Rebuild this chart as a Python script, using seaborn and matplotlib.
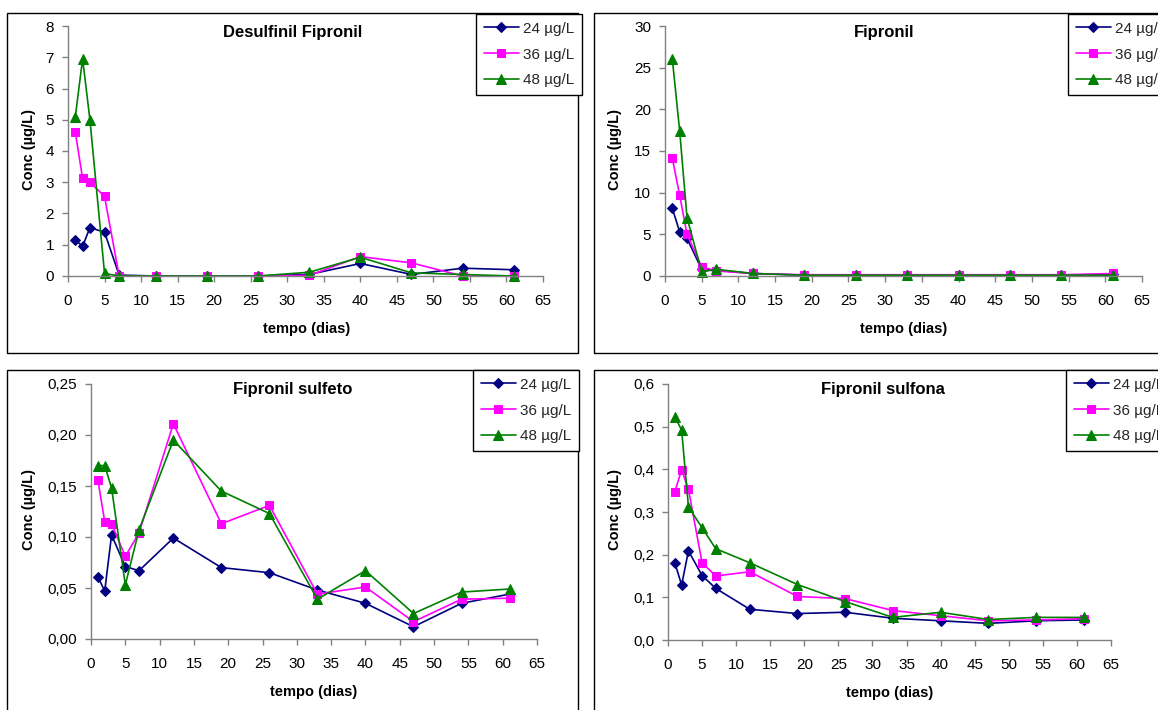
import numpy as np
import pandas as pd
import matplotlib
matplotlib.use("Agg")
import matplotlib.pyplot as plt
from matplotlib.patches import Rectangle
from matplotlib.ticker import FuncFormatter, MultipleLocator
import seaborn as sns

# ---------------- data ----------------
days = [1, 2, 3, 5, 7, 12, 19, 26, 33, 40, 47, 54, 61]
series_labels = ["24 µg/L", "36 µg/L", "48 µg/L"]

desulfinil_24 = [1.15, 0.95, 1.55, 1.40, 0.03, 0.0, 0.0, 0.0, 0.05, 0.40, 0.05, 0.25, 0.20]
desulfinil_36 = [4.60, 3.12, 3.00, 2.55, 0.0, 0.0, 0.0, 0.0, 0.02, 0.62, 0.42, 0.0, 0.0]
desulfinil_48 = [5.10, 6.95, 5.00, 0.08, 0.0, 0.0, 0.0, 0.0, 0.12, 0.60, 0.10, 0.05, 0.0]

fipronil_24 = [8.1, 5.3, 4.5, 0.8, 0.7, 0.3, 0.1, 0.1, 0.1, 0.1, 0.1, 0.1, 0.2]
fipronil_36 = [14.1, 9.7, 5.0, 1.1, 0.6, 0.3, 0.15, 0.15, 0.15, 0.15, 0.15, 0.15, 0.3]
fipronil_48 = [26.0, 17.4, 7.0, 0.5, 0.8, 0.3, 0.1, 0.1, 0.1, 0.1, 0.1, 0.1, 0.1]

sulfeto_24 = [0.061, 0.047, 0.102, 0.071, 0.067, 0.099, 0.070, 0.065, 0.048, 0.035, 0.012, 0.035, 0.044]
sulfeto_36 = [0.156, 0.115, 0.113, 0.081, 0.104, 0.211, 0.113, 0.131, 0.044, 0.051, 0.017, 0.039, 0.040]
sulfeto_48 = [0.170, 0.170, 0.148, 0.053, 0.107, 0.195, 0.145, 0.123, 0.039, 0.067, 0.025, 0.046, 0.049]

sulfona_24 = [0.181, 0.129, 0.209, 0.151, 0.121, 0.072, 0.062, 0.065, 0.051, 0.045, 0.039, 0.045, 0.047]
sulfona_36 = [0.347, 0.399, 0.353, 0.181, 0.150, 0.160, 0.102, 0.097, 0.069, 0.057, 0.045, 0.047, 0.050]
sulfona_48 = [0.523, 0.492, 0.312, 0.263, 0.214, 0.181, 0.130, 0.090, 0.053, 0.065, 0.048, 0.053, 0.053]

titles = ["Desulfinil Fipronil", "Fipronil", "Fipronil sulfeto", "Fipronil sulfona"]
x_label = "tempo (dias)"
y_label = "Conc (µg/L)"

# ---------------- style ----------------
sns.set_theme(style="white")
plt.rcParams["font.family"] = ["Liberation Sans", "DejaVu Sans"]

colors = ["#000080", "#FF00FF", "#008000"]
markers = ["D", "s", "^"]
msizes = [5.0, 6.0, 6.5]

W, H = 1158, 710
fig = plt.figure(figsize=(W / 100, H / 100), dpi=100)
fig.patch.set_facecolor("white")


def fx(x):
    return x / W


def fy(y):
    return 1 - y / H


panels = [
    dict(data=[desulfinil_24, desulfinil_36, desulfinil_48], ax=(68, 543, 26, 276),
         frame=(7, 13, 578, 353), ymax=8, ystep=1, fmt="{:.0f}",
         title=(293, 33), xl=(307, 329), yl=(29, 150), leg=(476, 14)),
    dict(data=[fipronil_24, fipronil_36, fipronil_48], ax=(665, 1142, 26, 276),
         frame=(594, 13, 1174, 353), ymax=30, ystep=5, fmt="{:.0f}",
         title=(884, 33), xl=(904, 329), yl=(615, 150), leg=(1068, 14)),
    dict(data=[sulfeto_24, sulfeto_36, sulfeto_48], ax=(91, 537, 384, 639),
         frame=(7, 370, 578, 712), ymax=0.25, ystep=0.05, fmt="{:.2f}",
         title=(293, 389), xl=(314, 692), yl=(29, 510), leg=(473, 370)),
    dict(data=[sulfona_24, sulfona_36, sulfona_48], ax=(668, 1111, 384, 640),
         frame=(594, 370, 1174, 712), ymax=0.6, ystep=0.1, fmt="{:.1f}",
         title=(883, 389), xl=(890, 693), yl=(615, 510), leg=(1066, 370)),
]

for i, p in enumerate(panels):
    x0, x1, yt, yb = p["ax"]
    ax = fig.add_axes([fx(x0), fy(yb), (x1 - x0) / W, (yb - yt) / H])
    ax.set_facecolor("none")

    # outer chart frame
    fl, ft, fr, fb = p["frame"]
    fig.add_artist(Rectangle((fx(fl), fy(fb)), (fr - fl) / W, (fb - ft) / H,
                             transform=fig.transFigure, fill=False,
                             edgecolor="black", linewidth=1.0, zorder=0))

    for vals, lab, c, m, ms in zip(p["data"], series_labels, colors, markers, msizes):
        df = pd.DataFrame({"dia": days, "conc": vals})
        sns.lineplot(data=df, x="dia", y="conc", ax=ax, color=c, marker=m,
                     markersize=ms, markeredgecolor=c, markerfacecolor=c,
                     linewidth=1.2, label=lab, clip_on=False, legend=False)

    ax.set_xlim(0, 65)
    ax.set_ylim(0, p["ymax"])
    ax.xaxis.set_major_locator(MultipleLocator(5))
    ax.yaxis.set_major_locator(MultipleLocator(p["ystep"]))
    fmt = p["fmt"]
    ax.yaxis.set_major_formatter(FuncFormatter(lambda v, _, f=fmt: f.format(v).replace(".", ",")))
    ax.xaxis.set_major_formatter(FuncFormatter(lambda v, _: f"{v:.0f}"))

    for s in ["top", "right"]:
        ax.spines[s].set_visible(False)
    for s in ["left", "bottom"]:
        ax.spines[s].set_color("#808080")
        ax.spines[s].set_linewidth(1.0)
    ax.tick_params(axis="both", which="major", direction="out", length=4,
                   width=1.0, color="#808080", labelsize=11, labelcolor="black",
                   left=True, bottom=True)
    ax.tick_params(axis="x", pad=9)
    ax.tick_params(axis="y", pad=6)

    ax.set_xlabel(x_label, fontsize=10.5, fontweight="bold", color="black")
    ax.set_ylabel(y_label, fontsize=10.5, fontweight="bold", color="black",
                  va="center", ha="center")
    ax.xaxis.set_label_coords(fx(p["xl"][0]), fy(p["xl"][1]), transform=fig.transFigure)
    ax.xaxis.label.set_va("center")
    ax.yaxis.set_label_coords(fx(p["yl"][0]), fy(p["yl"][1]), transform=fig.transFigure)

    ax.text(fx(p["title"][0]), fy(p["title"][1]), titles[i], transform=fig.transFigure,
            ha="center", va="center", fontsize=12, fontweight="bold", color="black")

    handles = ax.get_lines()[:3]
    leg = ax.legend(handles, series_labels, loc="upper left",
                    bbox_to_anchor=(fx(p["leg"][0]), fy(p["leg"][1])),
                    bbox_transform=fig.transFigure, fontsize=11, frameon=True,
                    fancybox=False, edgecolor="black", framealpha=1.0,
                    handlelength=2.3, handletextpad=0.3, borderpad=0.5,
                    labelspacing=0.78, borderaxespad=0.0)
    leg.get_frame().set_linewidth(1.0)

fig.savefig("out.png", dpi=100, facecolor="white")
